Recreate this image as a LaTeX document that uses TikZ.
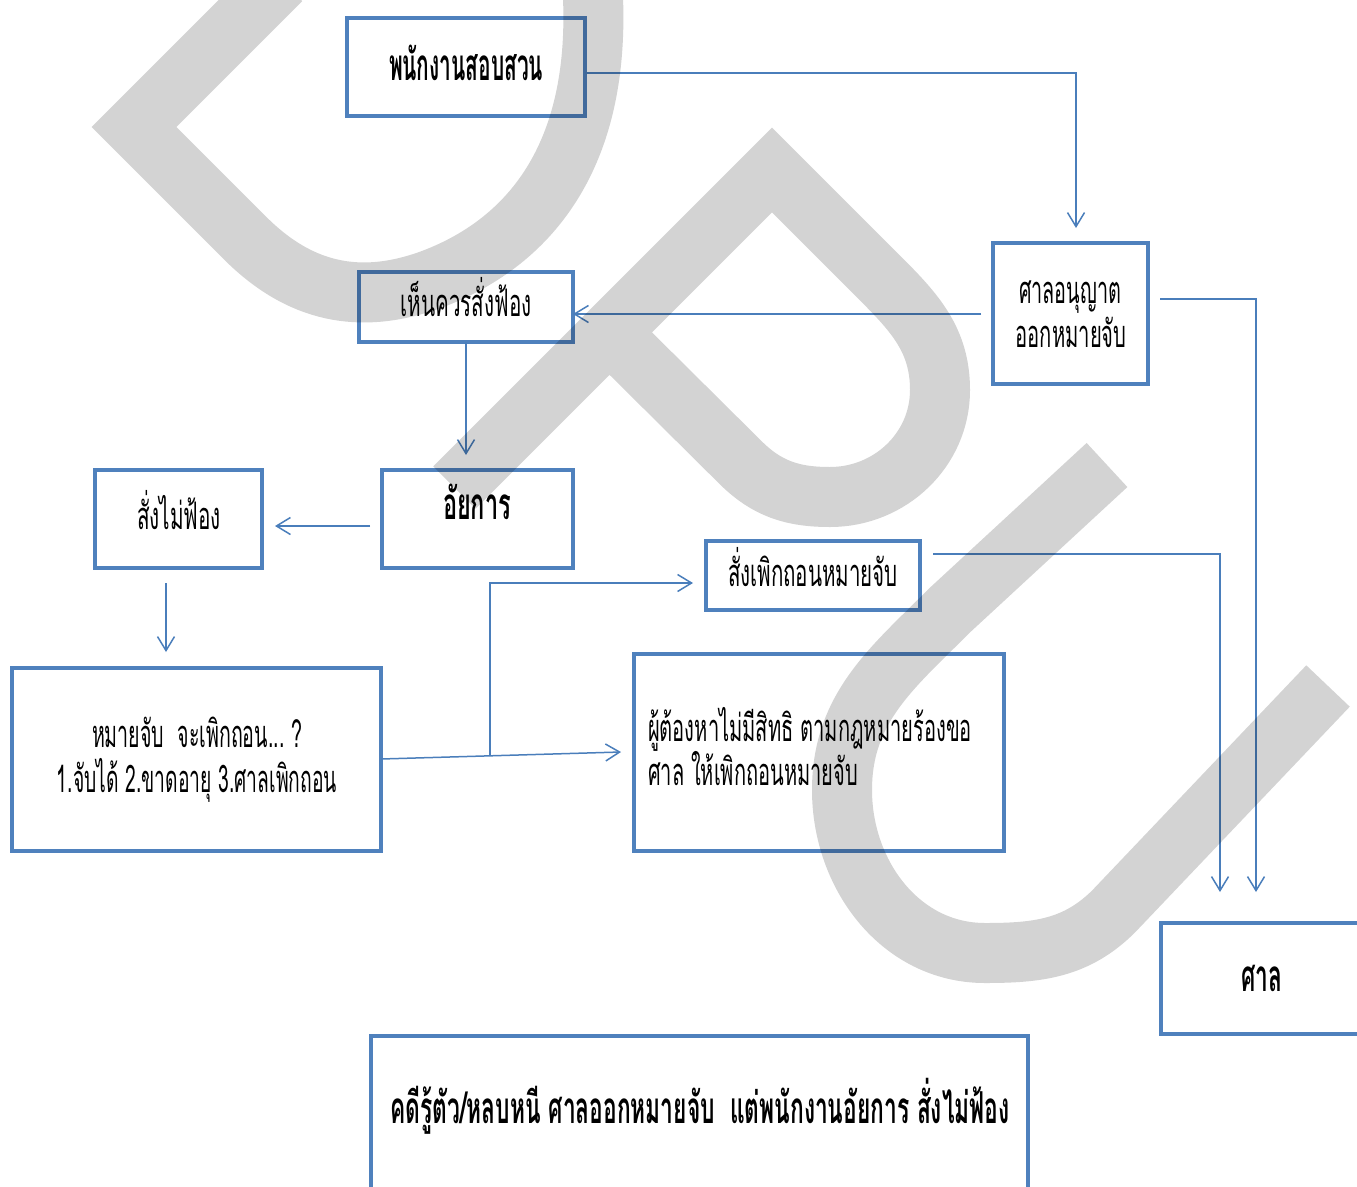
\documentclass[tikz,border=0pt]{standalone}
\usepackage{fontspec}
\newfontfamily\thai[Script=Thai]{Loma}
\usetikzlibrary{arrows.meta}
\definecolor{boxblue}{HTML}{4F81BD}
\definecolor{lineblue}{HTML}{4A7EBB}
\definecolor{wm}{HTML}{D3D3D3}
\newcommand\tw[2]{\resizebox{#1}{\height}{#2}}
\newcommand\mkbox[5]{\node[box,minimum width={#4-#2},minimum height={#5-#3}] (#1) at ({(#2+#4)/2},{(#3+#5)/2}) {};}
\begin{document}
\begin{tikzpicture}[x=1pt,y=-1pt,
 box/.style={draw=boxblue,line width=3.5pt,inner sep=0pt,outer sep=0pt},
 txt/.style={inner sep=0pt,outer sep=0pt,anchor=base,font=\thai\fontsize{38}{44}\selectfont},
 btxt/.style={txt,font=\thai\bfseries\fontsize{44}{50}\selectfont},
 conn/.style={draw=lineblue,line width=1.5pt},
 arr/.style={conn,-{Straight Barb[length=14pt,width=17pt]}},
 wmark/.style={draw=wm,line width=60pt,line join=miter,line cap=butt}]
\clip (0,0) rectangle (1357,1186);
\fill[white] (0,0) rectangle (1357,1186);
% boxes
\mkbox{inv}{347}{18}{585}{116}
\mkbox{hen}{359}{272}{573}{342}
\mkbox{sa}{993}{243}{1148}{384}
\mkbox{ai}{382}{470}{573}{568}
\mkbox{nf}{95}{470}{262}{568}
\mkbox{wd}{706}{541}{920}{610}
\mkbox{mj}{12}{668}{381}{851}
\mkbox{su}{634}{654}{1004}{851}
\mkbox{ct}{1161}{923}{1380}{1034}
\mkbox{bt}{371}{1036}{1028}{1220}
% free ends
\coordinate (a1) at (1076,228);
\coordinate (b0) at (981,314);
\coordinate (c1) at (466,455);
\coordinate (d0) at (370,526);
\coordinate (d1) at (275,526);
\coordinate (e0) at (166,583);
\coordinate (e1) at (166,652);
\coordinate (f1) at (621,752);
\coordinate (g0) at (490,756);
\coordinate (g1) at (693,583);
\coordinate (h0) at (933,554);
\coordinate (h1) at (1220,892);
\coordinate (i0) at (1160,299);
\coordinate (i1) at (1256,892);
% connectors
\draw[arr] (inv.east |- 0,73) -| (a1);
\draw[arr] (b0) -- (hen.east |- b0);
\draw[arr] (hen.south) -- (c1);
\draw[arr] (d0) -- (d1);
\draw[arr] (e0) -- (e1);
\draw[arr] (mj.east |- 0,759) -- (f1);
\draw[arr] (g0) |- (g1);
\draw[arr] (h0) -| (h1);
\draw[arr] (i0) -| (i1);
% texts
\node[btxt] (t1) at (466,80) {\tw{154pt}{พนักงานสอบสวน}};
\node[txt] (t2) at (466,316) {\tw{131pt}{เห็นควรสั่งฟ้อง}};
\node[txt] (t3) at (1070,303) {\tw{102pt}{ศาลอนุญาต}};
\node[txt] (t4) at (1071,347) {\tw{111pt}{ออกหมายจับ}};
\node[btxt] (t5) at (477,519) {\tw{68pt}{อัยการ}};
\node[txt] (t6) at (179,529) {\tw{84pt}{สั่งไม่ฟ้อง}};
\node[txt] (t7) at (813,586) {\tw{170pt}{สั่งเพิกถอนหมายจับ}};
\node[txt] (t8) at (197,747) {\tw{210pt}{หมายจับ~~จะเพิกถอน...~?}};
\node[txt] (t9) at (197,792) {\tw{280pt}{1.จับได้ 2.ขาดอายุ 3.ศาลเพิกถอน}};
\node[txt,anchor=base west] (t10) at (648,741) {\tw{324pt}{ผู้ต้องหาไม่มีสิทธิ ตามกฎหมายร้องขอ}};
\node[txt,anchor=base west] (t11) at (648,785) {\tw{210pt}{ศาล ให้เพิกถอนหมายจับ}};
\node[btxt] (t12) at (1262,991) {\tw{41pt}{ศาล}};
\node[btxt] (t13) at (700,1123) {\tw{619pt}{คดีรู้ตัว/หลบหนี ศาลออกหมายจับ~~แต่พนักงานอัยการ สั่งไม่ฟ้อง}};
% watermark
\begin{scope}[blend mode=multiply]
\draw[wmark] (281,-20) -- (134,127) -- (245,238) .. controls (300,293) and (360,305) .. (430,280) .. controls (525,245) and (605,160) .. (592,-20);
\draw[wmark] (454.5,487.5) -- (772,170) -- (880,278) to[out=-45,in=90] (940,390) to[out=-90,in=0] (830,497) to[out=180,in=-45] (740,462) -- (609,332);
\draw[wmark] (1107,465) -- (950,610) to[out=-135,in=90] (842,790) to[out=-90,in=180] (985,953) to[out=0,in=-135] (1114,911) -- (1328,686);
\end{scope}
\end{tikzpicture}
\end{document}
